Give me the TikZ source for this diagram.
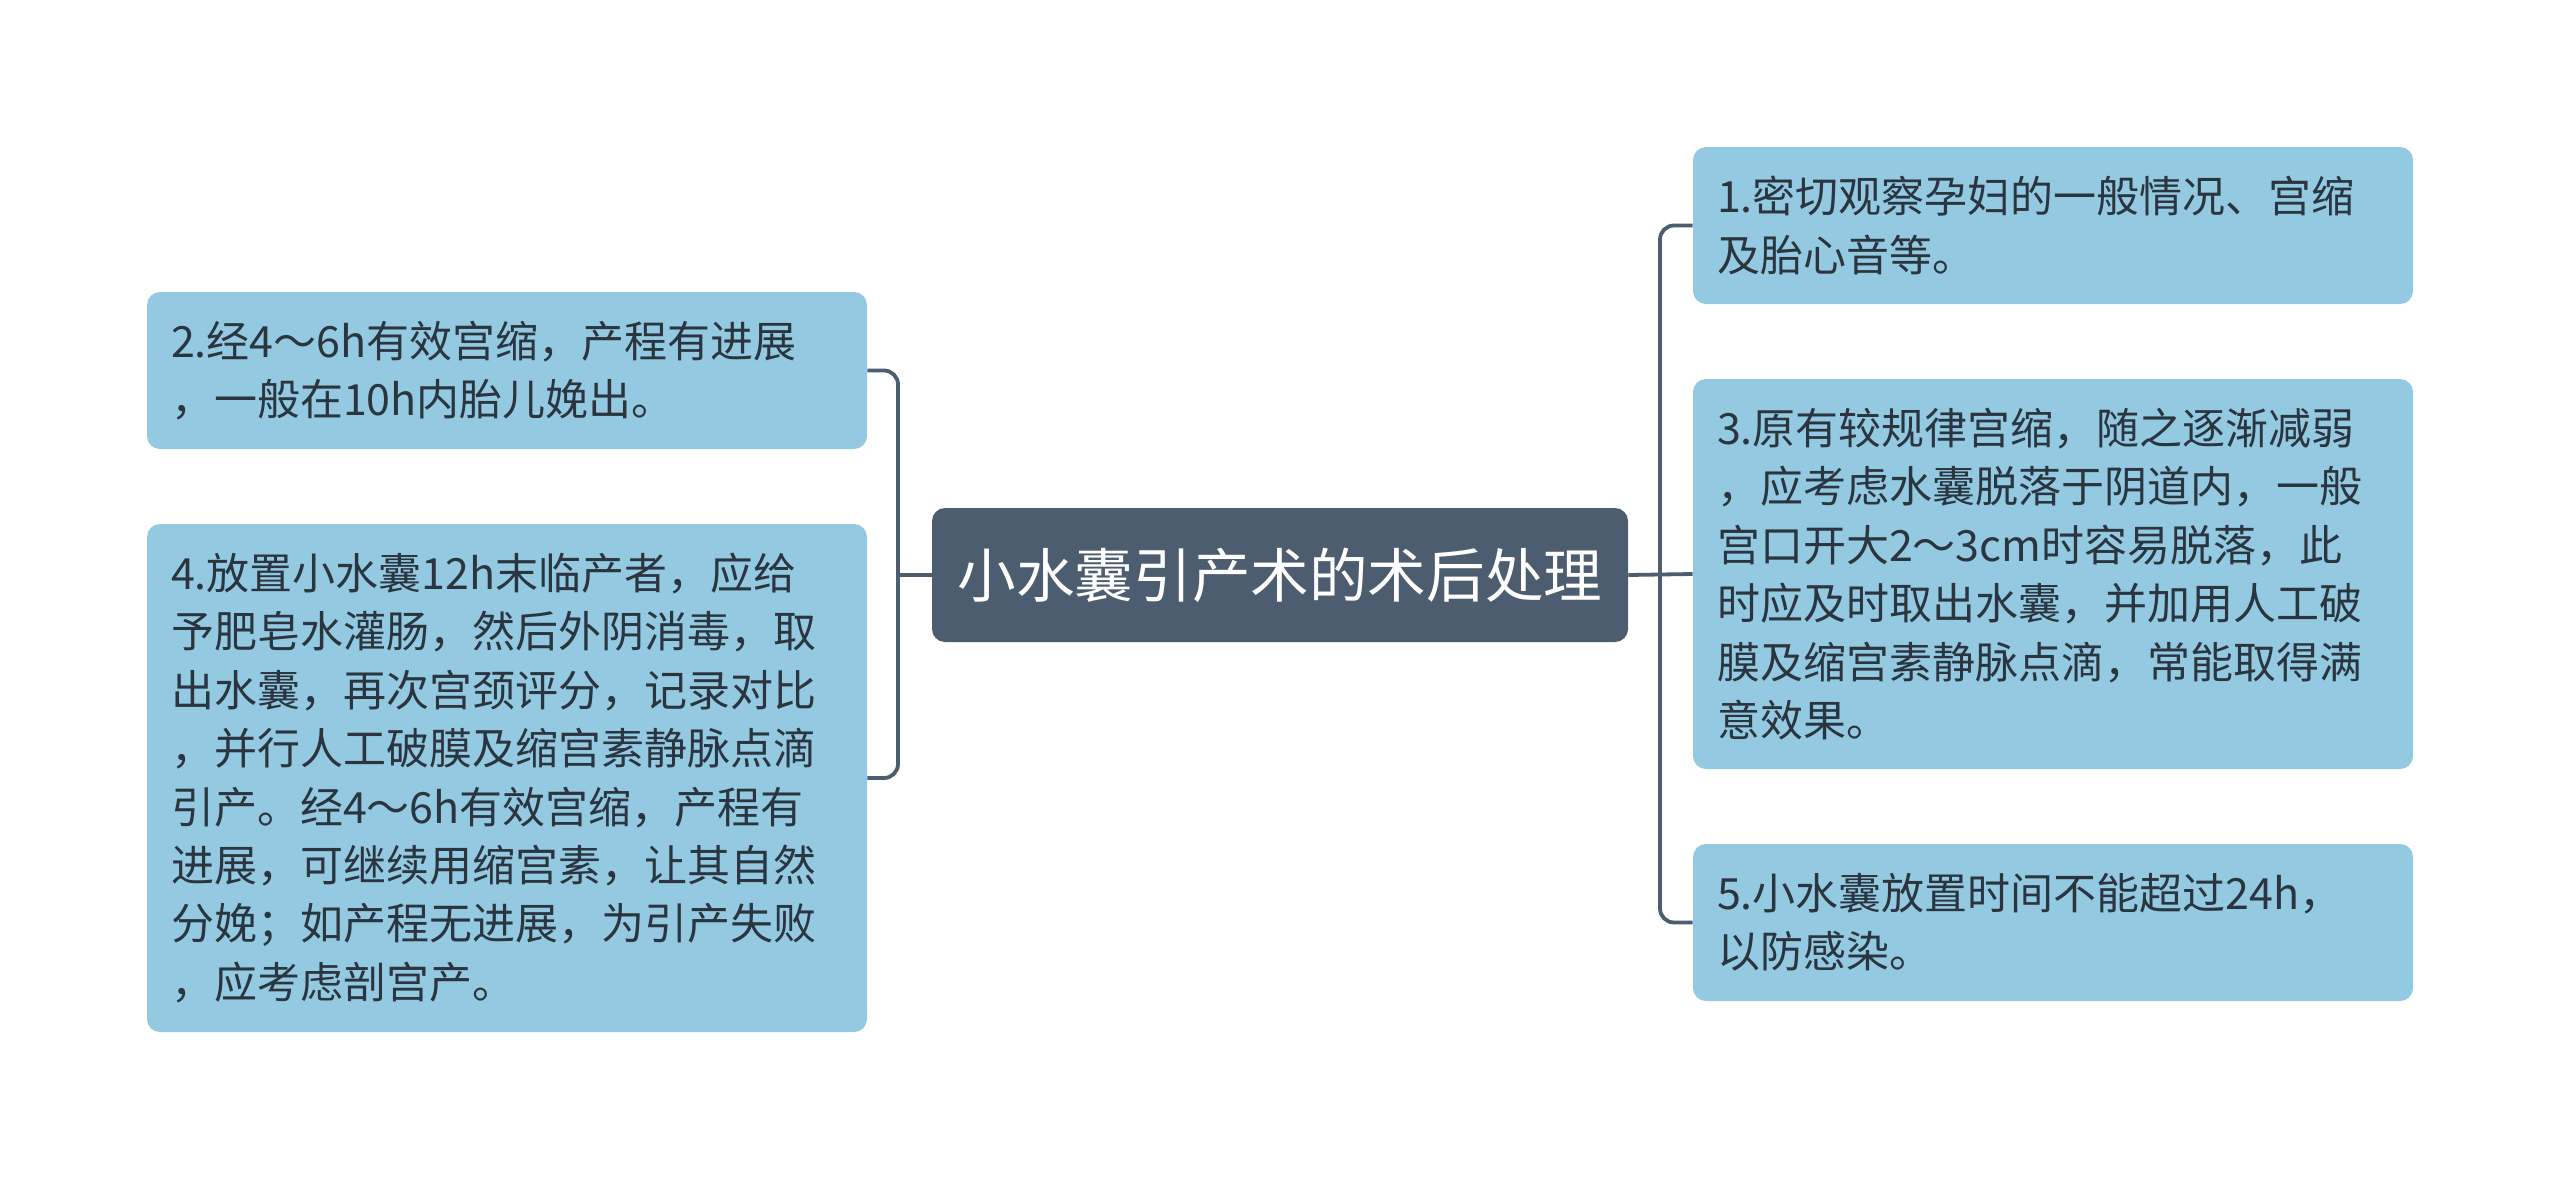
\documentclass[tikz,border=0pt]{standalone}
\usepackage{fontspec}
\setmainfont{Noto Sans CJK SC}
\definecolor{boxfill}{HTML}{94CAE1}
\definecolor{darknode}{HTML}{4B5D6E}
\definecolor{linecol}{HTML}{4B5D6E}
\definecolor{txt}{HTML}{2B3540}
\tikzset{
  leaf/.style={draw=none, fill=boxfill, rounded corners=6.5pt, inner sep=0pt,
    minimum width=360pt, text width=336pt, align=left, text=txt,
    font=\fontsize{21.5pt}{29.2pt}\selectfont},
  rootnode/.style={draw=none, fill=darknode, rounded corners=6.5pt, inner sep=0pt,
    minimum width=348pt, minimum height=67pt, text=white,
    font=\fontsize{29.3pt}{34pt}\selectfont},
  conn/.style={draw=linecol, line width=1.9pt, rounded corners=7pt}
}
\begin{document}
\begin{tikzpicture}[x=0.5pt,y=-0.5pt]
\fill[white] (0,0) rectangle (2560,1178);
\useasboundingbox (0,0) rectangle (2560,1178);

\node[rootnode] (root) at (1280,575) {小水囊引产术的术后处理};

\node[leaf, minimum height=78.5pt] (l1) at (507,370.5)
  {2.经4～6h有效宫缩，产程有进展\\，一般在10h内胎儿娩出。};
\node[leaf, minimum height=254pt] (l2) at (507,778)
  {4.放置小水囊12h末临产者，应给\\予肥皂水灌肠，然后外阴消毒，取\\出水囊，再次宫颈评分，记录对比\\，并行人工破膜及缩宫素静脉点滴\\引产。经4～6h有效宫缩，产程有\\进展，可继续用缩宫素，让其自然\\分娩；如产程无进展，为引产失败\\，应考虑剖宫产。};

\node[leaf, minimum height=78.5pt] (r1) at (2053,225.5)
  {1.密切观察孕妇的一般情况、宫缩\\及胎心音等。};
\node[leaf, minimum height=195pt] (r3) at (2053,574)
  {3.原有较规律宫缩，随之逐渐减弱\\，应考虑水囊脱落于阴道内，一般\\宫口开大2～3cm时容易脱落，此\\时应及时取出水囊，并加用人工破\\膜及缩宫素静脉点滴，常能取得满\\意效果。};
\node[leaf, minimum height=78.5pt] (r5) at (2053,922.5)
  {5.小水囊放置时间不能超过24h，\\以防感染。};

\coordinate (jl) at (898,575);
\coordinate (jr) at (1660,575);

\draw[conn] (l1.east) -- (jl |- l1.east) -- (jl |- l2.east) -- (l2.east);
\draw[conn] (root.west) -- (jl);

\draw[conn] (r1.west) -- (jr |- r1.west) -- (jr |- r5.west) -- (r5.west);
\draw[conn] (root.east) -- (r3.west);
\end{tikzpicture}
\end{document}
